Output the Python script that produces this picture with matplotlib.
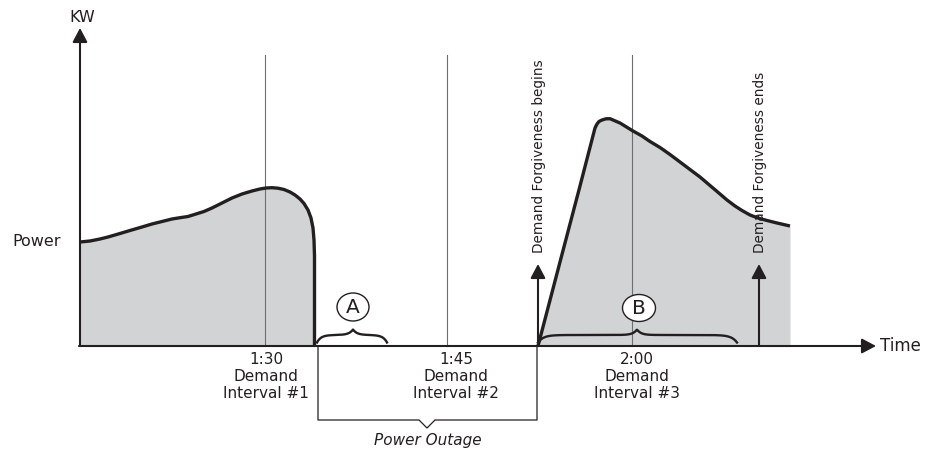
import numpy as np
import matplotlib
matplotlib.use("Agg")
import matplotlib.pyplot as plt
from matplotlib.patches import Ellipse

plt.rcParams['font.family'] = ['DejaVu Sans']

# ---- data (x: time position, y: power level above the time axis) ----
load1_x = [80, 90, 100, 108, 120, 130, 142, 152, 162, 172, 180, 188, 196, 204,
           212, 222, 232, 242, 252, 260, 266, 272, 278, 284, 290, 295, 300, 304,
           308, 311, 313, 314, 314.5, 314.5]
load1_y = [104, 105, 107, 109, 112.5, 115.5, 119, 122, 124.5, 127, 128.3, 129.5,
           132, 134.5, 138, 143, 148, 152, 155, 157, 158, 158.3, 157.8, 156.5,
           154, 151, 147, 142.5, 136, 128, 118, 106, 90, 0]

load2_x = [538, 560, 580, 595, 597, 599, 602, 606, 610, 620, 633, 642, 650, 660,
           670, 680, 690, 700, 710, 720, 727, 735, 742, 750, 758, 767, 777, 790]
load2_y = [0, 84, 160, 218, 222, 224.5, 226, 227.2, 227.3, 223, 215, 210, 204.5,
           198.5, 191.5, 184, 176.5, 169, 160.5, 152, 146, 140, 135.5, 131, 128,
           125.5, 123, 120]

interval_x = [265, 447, 632]
interval_labels = ["1:30\nDemand\nInterval #1", "1:45\nDemand\nInterval #2",
                   "2:00\nDemand\nInterval #3"]
interval_label_x = [266, 456, 637]
interval_top = 291

forgive_x = [538, 759]
forgive_labels = ["Demand Forgiveness begins", "Demand Forgiveness ends"]

outage_start, outage_end = 318, 537

brace_a = (317, 387, 353)
brace_b = (538, 737, 637)

INK = '#231f20'
FILL = '#d1d3d4'

fig = plt.figure(figsize=(9.34, 4.51), dpi=100)
ax = fig.add_axes([0, 0, 1, 1])
ax.set_xlim(0, 934)
ax.set_ylim(-105, 346)
ax.axis('off')

# filled load areas
ax.fill_between(load1_x, load1_y, 0, color=FILL, lw=0, zorder=1)
ax.fill_between(load2_x, load2_y, 0, color=FILL, lw=0, zorder=1)

# interval lines
for x in interval_x:
    ax.plot([x, x], [0, interval_top], color='#6d6e71', lw=0.8, zorder=2)

# load curves
ax.plot(load1_x, load1_y, color=INK, lw=2.4, solid_capstyle='butt',
        solid_joinstyle='round', zorder=3)
ax.plot(load2_x, load2_y, color=INK, lw=2.4, solid_capstyle='butt',
        solid_joinstyle='round', zorder=3)

# axes with arrows
arrow_kw = dict(arrowstyle='-|>,head_length=0.85,head_width=0.45', color=INK,
                lw=1.5, mutation_scale=10, shrinkA=0, shrinkB=0)
ax.annotate('', xy=(80, 318), xytext=(80, 0), arrowprops=arrow_kw, zorder=4)
ax.annotate('', xy=(876, 0), xytext=(79, 0), arrowprops=arrow_kw, zorder=4)
ax.text(82, 328, 'KW', ha='center', va='center', fontsize=11.5, color=INK)
ax.text(12, 104, 'Power', ha='left', va='center', fontsize=11.5, color=INK)
ax.text(880, 0, 'Time', ha='left', va='center', fontsize=12, color=INK)

# interval labels
for x, lab in zip(interval_label_x, interval_labels):
    ax.text(x, -6, lab, ha='center', va='top', fontsize=11, linespacing=1.15,
            color=INK)

# demand forgiveness arrows
for x, lab in zip(forgive_x, forgive_labels):
    ax.annotate('', xy=(x, 82), xytext=(x, 0), arrowprops=arrow_kw, zorder=4)
    ax.text(x + 1, 93, lab, rotation=90, ha='center', va='bottom',
            fontsize=9.8, color=INK, zorder=5)

# power outage bracket
yb = -74
ax.plot([outage_start, outage_start, 419, 427, 435, outage_end, outage_end],
        [0, yb, yb, yb - 8, yb, yb, 0], color=INK, lw=0.9, zorder=4)
ax.text((outage_start + outage_end) / 2 + 0.5, -94, 'Power Outage', ha='center',
        va='center', fontsize=11, style='italic', color=INK)


def brace(x0, x1, xm, k=4.0, w=4.0, base=3.5, arm=7.5, tip=5.5):
    t = np.linspace(x0, x1, 400)
    y = base + arm * (1 - np.exp(-(t - x0) / k)) * (1 - np.exp(-(x1 - t) / k))
    y += tip * np.exp(-np.abs(t - xm) / w)
    return t, y


for (x0, x1, xm), k in ((brace_a, 4.0), (brace_b, 5.5)):
    t, y = brace(x0, x1, xm, k=k)
    ax.plot(t, y, color=INK, lw=1.7, zorder=4)

# circled letters
for (cx, cy, wd, ht), letter in (((353, 39, 32, 28), 'A'), ((639, 38, 33, 27), 'B')):
    ax.add_patch(Ellipse((cx, cy), wd, ht, facecolor='white', edgecolor=INK,
                         lw=1.0, zorder=5))
    ax.text(cx, cy - 0.5, letter, ha='center', va='center', fontsize=14.5,
            color=INK, zorder=6)

fig.savefig('out.png', dpi=100)
